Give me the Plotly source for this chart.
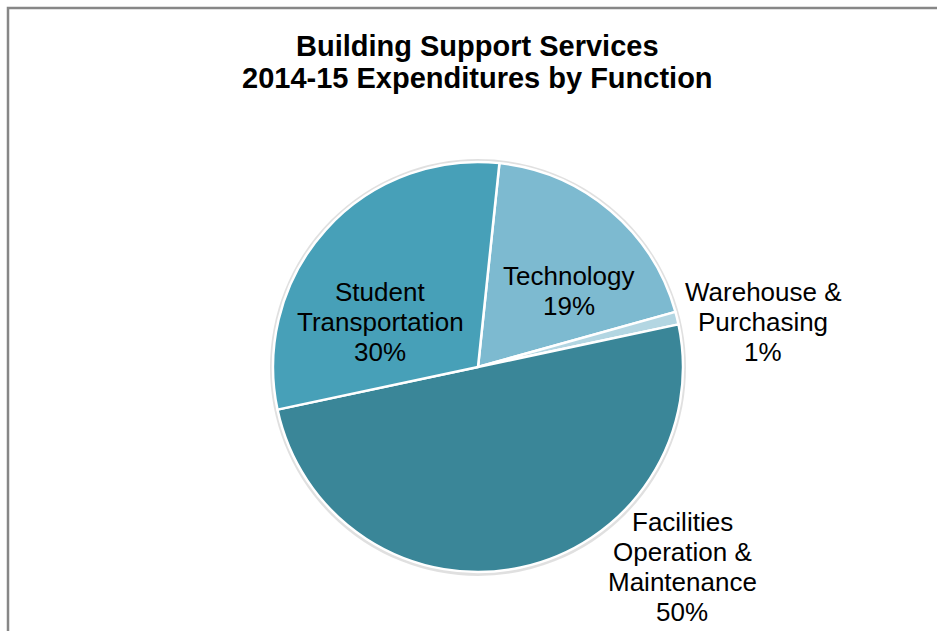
import plotly.graph_objects as go

# Expenditure shares by function (percent), clockwise from the top
functions = ["Technology", "Warehouse & Purchasing",
             "Facilities Operation & Maintenance", "Student Transportation"]
shares = [19, 1, 50, 30]
# Label text broken over lines as printed
label_lines = [["Technology"], ["Warehouse &", "Purchasing"],
               ["Facilities", "Operation &", "Maintenance"],
               ["Student", "Transportation"]]
colors = ["#7dbad0", "#b3d6e2", "#3a8698", "#47a0b8"]

W, H = 937, 631
cx, cy, r = 478, 367, 205

fig = go.Figure(go.Pie(
    labels=functions,
    values=shares,
    sort=False,
    direction="clockwise",
    rotation=6,
    textinfo="none",
    hoverinfo="label+percent",
    marker=dict(colors=colors, line=dict(color="white", width=2.5)),
    domain=dict(x=[(cx - r) / W, (cx + r) / W],
                y=[1 - (cy + r) / H, 1 - (cy - r) / H]),
    showlegend=False,
))

# Label block centres (pixels) and line pitch
label_pos = [(569, 291), (763, 322), (682, 567), (380, 322)]
pitch = 30
annotations = []
for lines, val, (px, py) in zip(label_lines, shares, label_pos):
    rows = lines + [f"{val}%"]
    top = py - pitch * (len(rows) - 1) / 2
    for i, row in enumerate(rows):
        annotations.append(dict(
            text=row,
            x=px / W, y=1 - (top + i * pitch) / H, xref="paper", yref="paper",
            xanchor="center", yanchor="middle", showarrow=False,
            font=dict(family="Liberation Sans, Arial", size=26, color="#000000"),
        ))

title_lines = ["Building Support Services", "2014-15 Expenditures by Function"]
for i, row in enumerate(title_lines):
    annotations.append(dict(
        text=f"<b>{row}</b>",
        x=478 / W, y=1 - (46 + 32 * i) / H, xref="paper", yref="paper",
        xanchor="center", yanchor="middle", showarrow=False,
        font=dict(family="Liberation Sans, Arial", size=29, color="#000000"),
    ))

shapes = [
    # soft halo around the pie
    dict(type="circle", xref="paper", yref="paper", layer="below",
         x0=(cx - r - 1) / W, x1=(cx + r + 1) / W,
         y0=1 - (cy + r + 2) / H, y1=1 - (cy - r - 1) / H,
         line=dict(color="rgba(0,0,0,0.12)", width=4)),
    # chart frame
    dict(type="rect", xref="paper", yref="paper", layer="above",
         x0=8 / W, x1=1.05, y0=-0.05, y1=1 - 8 / H,
         line=dict(color="#878787", width=2.5)),
]

fig.update_layout(
    width=W, height=H,
    margin=dict(l=0, r=0, t=0, b=0),
    paper_bgcolor="white", plot_bgcolor="white",
    annotations=annotations, shapes=shapes,
)

fig.write_html("out.html")
